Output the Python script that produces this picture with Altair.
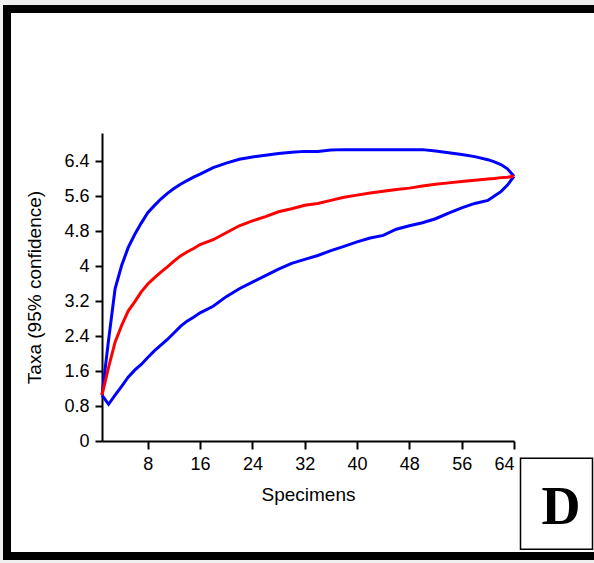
import altair as alt
import pandas as pd

# ---- data ----
x_vals = [1, 2, 3, 4, 5, 6, 7, 8, 9, 10, 11, 12, 13, 14, 15, 16,
          18, 20, 22, 24, 26, 28, 30, 32, 34, 36, 38, 40, 42, 44, 46, 48,
          50, 52, 54, 56, 58, 60, 61, 62, 63, 64]
upper = [1.05, 2.30, 3.48, 4.01, 4.42, 4.72, 4.98, 5.22, 5.38, 5.53, 5.66, 5.77,
         5.87, 5.95, 6.03, 6.10, 6.25, 6.35, 6.44, 6.49, 6.53, 6.57, 6.60, 6.62,
         6.62, 6.65, 6.66, 6.66, 6.66, 6.66, 6.66, 6.66, 6.66, 6.63, 6.59, 6.55,
         6.50, 6.43, 6.38, 6.32, 6.22, 6.05]
mean = [1.05, 1.68, 2.26, 2.64, 2.97, 3.18, 3.41, 3.59, 3.73, 3.86, 3.98, 4.11,
        4.23, 4.32, 4.40, 4.49, 4.60, 4.76, 4.92, 5.03, 5.13, 5.24, 5.31, 5.39,
        5.43, 5.50, 5.57, 5.62, 5.67, 5.71, 5.75, 5.78, 5.83, 5.87, 5.90, 5.93,
        5.96, 5.99, 6.00, 6.02, 6.03, 6.05]
lower = [1.05, 0.84, 1.05, 1.25, 1.46, 1.62, 1.75, 1.91, 2.06, 2.19, 2.32, 2.47,
         2.62, 2.74, 2.83, 2.93, 3.08, 3.30, 3.48, 3.63, 3.78, 3.93, 4.06, 4.15,
         4.24, 4.35, 4.45, 4.55, 4.64, 4.70, 4.84, 4.92, 4.99, 5.08, 5.21, 5.33,
         5.43, 5.50, 5.60, 5.70, 5.85, 6.05]

y_ticks = [0, 0.8, 1.6, 2.4, 3.2, 4, 4.8, 5.6, 6.4]
x_ticks = [8, 16, 24, 32, 40, 48, 56, 64]

rows = []
for name, vals in [("upper", upper), ("lower", lower), ("mean", mean)]:
    for xv, yv in zip(x_vals, vals):
        rows.append({"Specimens": xv, "Taxa": yv, "series": name})
df = pd.DataFrame(rows)

FONT = "Liberation Sans"

lines = alt.Chart(df).mark_line(strokeWidth=3).encode(
    x=alt.X("Specimens:Q",
            scale=alt.Scale(domain=[1, 64], nice=False, zero=False),
            axis=alt.Axis(values=x_ticks, format="d", title="Specimens",
                          grid=False, tickSize=8, labelPadding=6,
                          titlePadding=12)),
    y=alt.Y("Taxa:Q",
            scale=alt.Scale(domain=[0, 7.04], nice=False),
            axis=alt.Axis(values=y_ticks, format=".2~f",
                          title="Taxa (95% confidence)", grid=False,
                          tickSize=7, labelPadding=6, titlePadding=19)),
    color=alt.Color("series:N",
                    scale=alt.Scale(domain=["upper", "lower", "mean"],
                                    range=["#0000ff", "#0000ff", "#ff0000"]),
                    legend=None),
    order=alt.Order("Specimens:Q"),
)

one = alt.Data(values=[{}])

gray_top = alt.Chart(one).mark_rect(color="#efefef").encode(
    x=alt.value(-102), x2=alt.value(500), y=alt.value(-133), y2=alt.value(-128))
gray_left = alt.Chart(one).mark_rect(color="#efefef").encode(
    x=alt.value(-102), x2=alt.value(-99), y=alt.value(-133), y2=alt.value(430))
gray_bottom = alt.Chart(one).mark_rect(color="#efefef").encode(
    x=alt.value(-102), x2=alt.value(500), y=alt.value(427), y2=alt.value(430))

frame = alt.Chart(one).mark_rect(fillOpacity=0, stroke="black", strokeWidth=8).encode(
    x=alt.value(-95), x2=alt.value(520), y=alt.value(-124), y2=alt.value(423))

dbox = alt.Chart(one).mark_rect(fill="white", stroke="black", strokeWidth=1.5).encode(
    x=alt.value(418.5), x2=alt.value(490.5), y=alt.value(325.3), y2=alt.value(416.3))

dtext = alt.Chart(one).mark_text(text="D", font="Liberation Serif", fontWeight="bold",
                                 fontSize=54, align="center", baseline="alphabetic",
                                 color="black").encode(
    x=alt.value(459), y=alt.value(391))

chart = alt.layer(gray_top, gray_left, gray_bottom, frame, lines, dbox, dtext).properties(
    width=412, height=308,
    autosize=alt.AutoSizeParams(type="none"),
    padding={"left": 102, "top": 133, "right": 80, "bottom": 122},
    background="white",
).configure_view(stroke=None).configure_axis(
    domainColor="black", domainWidth=2, tickColor="black", tickWidth=2,
    labelColor="black", labelFont=FONT, labelFontSize=18,
    titleColor="black", titleFont=FONT, titleFontSize=19, titleFontWeight="normal",
)

chart.save("out.html", embed_options={"renderer": "svg", "actions": False})
